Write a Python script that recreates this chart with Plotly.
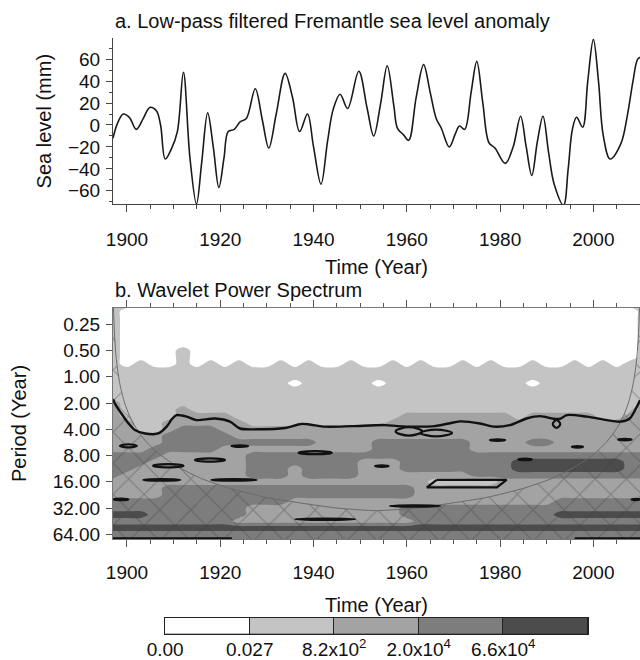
import numpy as np
import plotly.graph_objects as go

# ---------------- Panel a: low-pass filtered sea level -------------
SL_YEARS = [1897.0, 1898.0, 1899.2, 1900.5, 1902.0, 1903.5, 1904.9, 1906.3, 1907.2, 1908.2,
            1909.5, 1910.8, 1912.1, 1913.5, 1914.9, 1916.0, 1917.3, 1918.5, 1919.7, 1920.8,
            1921.7, 1923.0, 1924.3, 1925.6, 1927.5, 1929.0, 1930.4, 1932.0, 1933.9, 1935.5,
            1937.0, 1938.7, 1940.0, 1941.6, 1943.0, 1944.2, 1945.7, 1947.3, 1949.7, 1951.5,
            1952.9, 1954.4, 1955.8, 1957.2, 1958.0, 1959.3, 1960.4, 1962.0, 1963.6, 1965.0,
            1966.3, 1967.4, 1969.1, 1970.4, 1971.3, 1972.4, 1973.8, 1975.0, 1976.3, 1977.6,
            1978.9, 1981.1, 1982.8, 1984.4, 1985.6, 1986.8, 1988.0, 1989.2, 1990.4, 1991.6,
            1993.6, 1994.6, 1995.5, 1996.4, 1997.7, 1998.8, 2000.0, 2001.1, 2002.1, 2003.6,
            2005.9, 2007.3, 2008.5, 2009.5, 2010.2]
SL_MM = [-12, 2, 10, 7, -4, 6, 16, 13, 0, -31,
         -22, -6, 48, -30, -72, -35, 11, -20, -57, -30,
         -6, -4, 3, 6, 33, 5, -21, 10, 47, 25,
         -6, 10, -20, -54, -15, 14, 28, 15, 49, 15,
         -10, 20, 54, 18, -3, -9, -14, 25, 55, 30,
         6, -3, -20, -8, -1, -4, 30, 58, 20, -16,
         -21, -35, -20, 8, -20, -46, -15, 8, -25, -54,
         -73, -40, -4, 7, -2, 40, 78, 40, -9, -31,
         -17, 9, 40, 60, 62]

# ---------------- Panel b: wavelet power levels (0..4) ---------------
GRID_YEARS = list(range(1897, 2012, 3))                 # 39 columns
GRID_LOG2P = [-2.75 + 0.25 * i for i in range(37)]     # 37 rows (log2 of period)
LEVEL_ROWS = [
    "1100000000" "0000000000" "0000000000" "000000111",  # -2.75
    "1000000000" "0000000000" "0000000000" "000000001",  # -2.50
    "1000000000" "0000000000" "0000000000" "000000001",  # -2.25
    "1000000000" "0000000000" "0000000000" "000000001",  # -2.00
    "1000000000" "0000000000" "0000000000" "000000001",  # -1.75
    "1000000000" "0000000000" "0000000000" "000000001",  # -1.50
    "1000000000" "0000000000" "0000000000" "000000001",  # -1.25
    "1000010000" "0000000000" "0000000000" "000000001",  # -1.00
    "1000010000" "0000000000" "0000000000" "000000001",  # -0.75
    "1010010101" "0010100100" "1010010100" "100101011",  # -0.50
    "1111111111" "1111111111" "1111111111" "111111111",  # -0.25
    "1111111111" "1111111111" "1111111111" "111111111",  #  0.00
    "1111111111" "1110111110" "1111111111" "011111111",  #  0.25
    "1111111111" "1111111111" "1111111111" "111111111",  #  0.50
    "1111111111" "1111111111" "1111111111" "111111111",  #  0.75
    "2111111111" "1111111111" "1111111111" "111111112",  #  1.00
    "2111121111" "1111111111" "1111111111" "111111112",  #  1.25
    "2111122221" "1111111111" "1222222221" "222221122",  #  1.50
    "2211222222" "1111111111" "2222222222" "222222222",  #  1.75
    "2211233322" "2222222222" "2222222222" "222222222",  #  2.00
    "2222333332" "2222222222" "2222222222" "222222222",  #  2.25
    "2222333333" "3333322223" "3333332222" "332222222",  #  2.50
    "2223333322" "2222222223" "3333332222" "222222222",  #  2.75
    "3333222222" "3333333333" "3333333333" "333333333",  #  3.00
    "3332222222" "3333333322" "2333333334" "444444433",  #  3.25
    "3322222222" "3332333322" "2333333334" "444444433",  #  3.50
    "3222222222" "3332333322" "2222223333" "333333333",  #  3.75
    "2222222222" "2222222222" "2221111122" "222222222",  #  4.00
    "2222333333" "3333333333" "3322222222" "222222222",  #  4.25
    "2222333333" "3333333333" "3322222222" "222222222",  #  4.50
    "3333333333" "3332222222" "2222222222" "223333333",  #  4.75
    "3333333333" "2222222222" "2333333333" "333333333",  #  5.00
    "4443333333" "2222222222" "2333333333" "334444444",  #  5.25
    "3333333332" "2222222222" "2233333333" "333333333",  #  5.50
    "4444444444" "4444444444" "4444444444" "444444444",  #  5.75
    "3333333333" "3333333333" "3333333333" "333333333",  #  6.00
    "3333333333" "3333333333" "3333333333" "333333333",  #  6.25
]

LEVEL_COLORS = ["#ffffff", "#c4c4c4", "#a3a3a3", "#7d7d7d", "#4c4c4c"]
CB_LEVELS = [0, 1, 2, 3, 4]
CB_TICKVALS = [-0.5, 0.5, 1.5, 2.5, 3.5]
CB_TICKTEXT = ["0.00", "0.027", "8.2x10<sup>2</sup>", "2.0x10<sup>4</sup>", "6.6x10<sup>4</sup>"]

PERIOD_TICKS = [0.25, 0.5, 1, 2, 4, 8, 16, 32, 64]
PERIOD_LABELS = ["0.25", "0.50", "1.00", "2.00", "4.00", "8.00", "16.00", "32.00", "64.00"]

# cone of influence (year, log2 period)
COI_YEARS = [1897.05, 1897.3, 1897.6, 1898.0, 1898.6, 1899.5, 1900.5, 1902, 1904, 1907, 1911,
             1916, 1922, 1930, 1940, 1945, 1950, 1953.5, 1957, 1962, 1967, 1977, 1985, 1991,
             1996, 2000, 2003, 2005, 2006.5, 2007.5, 2008.4, 2009.0, 2009.4, 2009.7, 2009.95]
COI_LOG2P = [-2.9, -1.7, -0.89, -0.24, 0.39, 1.0, 1.47, 1.97, 2.45, 2.96, 3.44,
             3.88, 4.25, 4.6, 4.88, 5.0, 5.07, 5.1, 5.07, 5.0, 4.88, 4.6, 4.25, 3.88,
             3.44, 2.96, 2.45, 1.97, 1.47, 1.0, 0.39, -0.24, -0.89, -1.7, -2.9]

# main significance contour
SIG_YEARS = [1897.0, 1897.5, 1898.8, 1900.2, 1901.7, 1903.9, 1906.7, 1908.5, 1909.6, 1910.6,
             1912.8, 1914.9, 1918.9, 1922.1, 1924.2, 1928.1, 1933.9, 1937.5, 1942.5, 1948.2,
             1955.3, 1958.0, 1962.0, 1966.0, 1969.0, 1971.4, 1975.7, 1978.6, 1982.1, 1985.7,
             1988.6, 1991.4, 1992.9, 1994.3, 1998.6, 2002.9, 2005.7, 2007.8, 2009.3, 2010.0]
SIG_LOG2P = [0.85, 1.05, 1.40, 1.75, 2.03, 2.16, 2.16, 1.90, 1.62, 1.46,
             1.52, 1.65, 1.59, 1.71, 1.97, 2.00, 1.95, 1.80, 1.90, 1.88,
             1.84, 1.88, 1.90, 1.88, 1.78, 1.70, 1.78, 1.90, 1.84, 1.59,
             1.50, 1.60, 1.60, 1.46, 1.52, 1.65, 1.71, 1.59, 1.15, 0.89]

# small closed significance contours: start year, end year, log2 period, half height
DASH_X0 = [1898.5, 1905.6, 1903.5, 1914.6, 1922.4, 1918.1, 1897.1, 1936.8, 1953.2, 1956.4,
           1936.1, 1977.8, 1995.4, 1983.9, 2005.3, 2008.2, 1957.6, 1962.9, 1991.3]
DASH_X1 = [1902.1, 1912.1, 1911.4, 1921.0, 1926.0, 1927.8, 1900.3, 1943.9, 1956.1, 1967.1,
           1948.9, 1981.1, 1997.8, 1986.8, 2008.2, 2010.0, 1963.3, 1969.7, 1992.9]
DASH_Y = [2.63, 3.39, 3.93, 3.17, 2.64, 3.93, 4.67, 2.89, 3.40, 4.92,
          5.43, 2.41, 2.67, 3.15, 2.39, 4.67, 2.08, 2.14, 1.80]
DASH_H = [0.06, 0.06, 0.03, 0.06, 0.03, 0.03, 0.03, 0.06, 0.03, 0.025,
          0.025, 0.03, 0.03, 0.03, 0.03, 0.025, 0.16, 0.13, 0.15]

# parallelogram-shaped significance contour
PARA_YEARS = [1966.4, 1981.4, 1979.3, 1964.3, 1966.4]
PARA_LOG2P = [3.93, 3.93, 4.21, 4.21, 3.93]

# significance contour lying along the bottom edge
EDGE_SEG_X0 = [1897.0, 1996.0]
EDGE_SEG_X1 = [1922.5, 2010.5]
EDGE_LOG2P = 6.15

X_RANGE = [1897.0, 2010.0]
YA_RANGE = [-72, 79]
YB_RANGE = [6.19, -2.63]

FONT = "Liberation Sans, Arial, Helvetica, sans-serif"

# colour scale for the 0..4 level field (level i at fraction i/4)
step_cs = []
for i, c in enumerate(LEVEL_COLORS):
    step_cs.append([max(0.0, (i - 0.5) / 4.0), c])
    step_cs.append([min(1.0, (i + 0.5) / 4.0), c])

fig = go.Figure()

# panel a line
fig.add_trace(go.Scatter(x=SL_YEARS, y=SL_MM, mode="lines",
                         line=dict(color="#1a1a1a", width=1.6, shape="spline", smoothing=1.0),
                         xaxis="x", yaxis="y", showlegend=False, hoverinfo="skip"))

# panel b filled power
z = [[int(ch) for ch in row] for row in LEVEL_ROWS]
fig.add_trace(go.Contour(x=GRID_YEARS, y=GRID_LOG2P, z=z, zmin=0, zmax=4,
                         contours=dict(start=0.5, end=3.5, size=1, coloring="fill", showlines=False),
                         line=dict(width=0, smoothing=1.0), colorscale=step_cs, showscale=False,
                         xaxis="x2", yaxis="y2", hoverinfo="skip"))

# cone of influence hatch
poly_x = COI_YEARS + [2011.0, 2011.0, 1896.0, 1896.0]
poly_y = COI_LOG2P + [-3.0, 6.6, 6.6, -3.0]
fig.add_trace(go.Scatter(x=poly_x, y=poly_y, mode="lines", fill="toself",
                         fillcolor="rgba(0,0,0,0)",
                         fillpattern=dict(shape="x", size=22, solidity=0.09,
                                          fgcolor="rgba(60,60,60,0.8)", bgcolor="rgba(0,0,0,0)"),
                         line=dict(width=0), xaxis="x2", yaxis="y2", showlegend=False, hoverinfo="skip"))
fig.add_trace(go.Scatter(x=COI_YEARS, y=COI_LOG2P, mode="lines",
                         line=dict(color="#6a6a6a", width=1, shape="spline", smoothing=0.6),
                         xaxis="x2", yaxis="y2", showlegend=False, hoverinfo="skip"))

# significance contours
fig.add_trace(go.Scatter(x=SIG_YEARS, y=SIG_LOG2P, mode="lines",
                         line=dict(color="#111", width=2.4, shape="spline", smoothing=0.8),
                         xaxis="x2", yaxis="y2", showlegend=False, hoverinfo="skip"))
dx, dy = [], []
for x0, x1, yc, h in zip(DASH_X0, DASH_X1, DASH_Y, DASH_H):
    xm = 0.5 * (x0 + x1)
    dx += [x0, xm, x1, xm, x0, None]
    dy += [yc, yc - h, yc, yc + h, yc, None]
fig.add_trace(go.Scatter(x=dx, y=dy, mode="lines",
                         line=dict(color="#111", width=2.2, shape="spline", smoothing=1.2),
                         xaxis="x2", yaxis="y2", showlegend=False, hoverinfo="skip"))
fig.add_trace(go.Scatter(x=PARA_YEARS, y=PARA_LOG2P, mode="lines",
                         line=dict(color="#111", width=2.2),
                         xaxis="x2", yaxis="y2", showlegend=False, hoverinfo="skip"))
ex, ey = [], []
for x0, x1 in zip(EDGE_SEG_X0, EDGE_SEG_X1):
    ex += [x0, x1, None]
    ey += [EDGE_LOG2P, EDGE_LOG2P, None]
fig.add_trace(go.Scatter(x=ex, y=ey, mode="lines", line=dict(color="#111", width=2.2),
                         xaxis="x2", yaxis="y2", showlegend=False, hoverinfo="skip"))

# colour key (five outlined boxes)
fig.add_trace(go.Bar(x=CB_LEVELS, y=[1] * len(CB_LEVELS), width=[1] * len(CB_LEVELS),
                     marker=dict(color=LEVEL_COLORS, line=dict(color="#222222", width=1)),
                     cliponaxis=False, xaxis="x3", yaxis="y3", showlegend=False, hoverinfo="skip"))

axis_common = dict(showgrid=False, zeroline=False, showline=True, linewidth=1,
                   tickwidth=1, tickfont=dict(size=19, family=FONT, color="#111"))

fig.update_layout(
    width=640, height=660,
    margin=dict(l=113, r=0, t=0, b=0, autoexpand=False),
    paper_bgcolor="white", plot_bgcolor="white",
    font=dict(family=FONT, size=20, color="#111"),
    showlegend=False, bargap=0,
    xaxis=dict(domain=[0, 1], range=X_RANGE, anchor="y", tickmode="linear", tick0=1900, dtick=20,
               ticks="outside", ticklen=7, linecolor="#444", tickcolor="#444",
               ticklabelstandoff=11,
               minor=dict(dtick=5, tick0=1900, ticks="outside", ticklen=4, tickcolor="#444"),
               title=dict(text="Time (Year)", font=dict(size=20), standoff=11),
               **axis_common),
    yaxis=dict(domain=[1 - 204 / 660, 1 - 38.3 / 660], range=YA_RANGE, anchor="x",
               tickmode="linear", tick0=0, dtick=20, ticks="outside", ticklen=6,
               linecolor="#444", tickcolor="#444", ticklabelstandoff=2,
               minor=dict(dtick=10, tick0=0, ticks="outside", ticklen=3, tickcolor="#444"),
               title=dict(text="Sea level (mm)", font=dict(size=20), standoff=10),
               **axis_common),
    xaxis2=dict(domain=[0, 1], range=X_RANGE, anchor="y2", tickmode="linear", tick0=1900, dtick=20,
                ticks="outside", ticklen=7, linecolor="#777", tickcolor="#555", mirror="ticks",
                ticklabelstandoff=9,
                minor=dict(dtick=5, tick0=1900, ticks="outside", ticklen=4, tickcolor="#555"),
                title=dict(text="Time (Year)", font=dict(size=20), standoff=15),
                **axis_common),
    yaxis2=dict(domain=[1 - 539.3 / 660, 1 - 307.7 / 660], range=YB_RANGE, anchor="x2",
                tickmode="array", tickvals=list(np.log2(PERIOD_TICKS)), ticktext=PERIOD_LABELS,
                ticks="outside", ticklen=6, linecolor="#777", tickcolor="#555", mirror=True,
                ticklabelstandoff=2,
                title=dict(text="Period (Year)", font=dict(size=20), standoff=20),
                **axis_common),
    xaxis3=dict(domain=[(165 - 113) / 527, (588 - 113) / 527], range=[-0.502, 4.502], anchor="y3",
                tickmode="array", tickvals=CB_TICKVALS, ticktext=CB_TICKTEXT, ticks="",
                showline=True, mirror=True, linecolor="#222222", linewidth=1,
                showgrid=False, zeroline=False, ticklabelstandoff=-2,
                tickfont=dict(size=19, family=FONT, color="#111")),
    yaxis3=dict(domain=[(660 - 634.3) / 660, (660 - 617.7) / 660], range=[0, 1], anchor="x3",
                showline=True, mirror=True, linecolor="#222222", linewidth=1,
                showticklabels=False, ticks="", showgrid=False, zeroline=False),
    annotations=[
        dict(text="a. Low-pass filtered Fremantle sea level anomaly", xref="paper", yref="paper",
             x=0, y=1 - 21 / 660, xanchor="left", yanchor="middle", showarrow=False,
             font=dict(size=20, family=FONT, color="#111")),
        dict(text="b. Wavelet Power Spectrum", xref="paper", yref="paper",
             x=0, y=1 - 290 / 660, xanchor="left", yanchor="middle", showarrow=False,
             font=dict(size=20, family=FONT, color="#111")),
    ],
)

fig.write_html("out.html", config={"displayModeBar": False},
               post_script="document.body.style.margin='0px';document.body.style.overflow='hidden';")
